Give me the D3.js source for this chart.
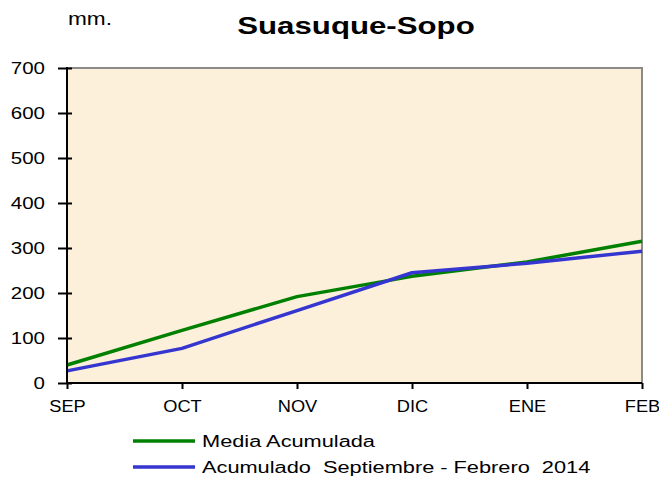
<!DOCTYPE html>
<html>
<head>
  <meta charset="utf-8">
  <title>Suasuque-Sopo</title>
  <script src="https://d3js.org/d3.v7.min.js"></script>
  <style>
    body { margin: 0; background: #fff; }
    text { font-family: Arial, 'Liberation Sans', sans-serif; fill: #000; }
  </style>
</head>
<body>
<div id="chart"></div>
<script>
  // data
  var months = ["SEP", "OCT", "NOV", "DIC", "ENE", "FEB"];
  var media = [40, 117, 192, 237, 269, 315];
  var acumulado = [27, 77, 161, 245, 266, 293];
  var yTicks = [0, 100, 200, 300, 400, 500, 600, 700];
  var seriesNames = ["Media Acumulada", "Acumulado  Septiembre - Febrero  2014"];
  var seriesColors = ["#008000", "#3535cf"];

  var W = 659, H = 477;
  var pLeft = 67, pRight = 642, pTop = 68, pBottom = 383;

  // the original text is drawn a bit wider than plain Arial
  function stretch(sel, f) {
    sel.each(function () {
      var len = this.getComputedTextLength();
      d3.select(this).attr("textLength", len * f).attr("lengthAdjust", "spacingAndGlyphs");
    });
  }

  var svg = d3.select("#chart").append("svg")
    .attr("width", W).attr("height", H);

  var x = d3.scalePoint().domain(months).range([pLeft, pRight]);
  var y = d3.scaleLinear().domain([0, 700]).range([pBottom, pTop]);

  // plot background
  svg.append("rect")
    .attr("x", pLeft).attr("y", pTop)
    .attr("width", pRight - pLeft).attr("height", pBottom - pTop)
    .attr("fill", "#fcf0db");

  // grey frame top/right
  svg.append("path")
    .attr("d", "M" + pLeft + "," + pTop + "H" + pRight + "V" + pBottom)
    .attr("fill", "none").attr("stroke", "#8a8a8a").attr("stroke-width", 2);

  // title + unit
  var title = svg.append("text").attr("x", 356).attr("y", 34)
    .attr("text-anchor", "middle").attr("font-weight", "bold")
    .attr("font-size", 24).text("Suasuque-Sopo");
  stretch(title, 1.3);
  var unit = svg.append("text").attr("x", 68).attr("y", 25)
    .attr("font-size", 18).text("mm.");
  unit.attr("textLength", 44).attr("lengthAdjust", "spacingAndGlyphs");

  // lines
  var line = d3.line().x(function (d, i) { return x(months[i]); }).y(function (d) { return y(d); });
  [media, acumulado].forEach(function (s, k) {
    svg.append("path").datum(s)
      .attr("d", line)
      .attr("fill", "none")
      .attr("stroke", seriesColors[k])
      .attr("stroke-width", 3.5)
      .attr("stroke-linejoin", "round");
  });

  // y axis
  var gy = svg.append("g").attr("transform", "translate(" + pLeft + ",0)")
    .call(d3.axisLeft(y).tickValues(yTicks).tickSize(9).tickPadding(13));
  gy.selectAll(".tick line").attr("x2", -9).attr("x1", 5).attr("stroke-width", 2);
  gy.select(".domain").attr("stroke-width", 2).attr("d", "M0," + (pTop - 1) + "V" + pBottom);
  gy.selectAll("text").attr("font-size", 16).attr("font-family", "Arial, 'Liberation Sans', sans-serif");
  stretch(gy.selectAll("text"), 1.28);

  // x axis
  var gx = svg.append("g").attr("transform", "translate(0," + pBottom + ")")
    .call(d3.axisBottom(x).tickSize(6).tickPadding(12));
  gx.selectAll(".tick line").attr("stroke-width", 2);
  gx.select(".domain").attr("stroke-width", 2).attr("d", "M" + pLeft + ",0H" + pRight);
  gx.selectAll("text").attr("font-size", 16).attr("font-family", "Arial, 'Liberation Sans', sans-serif");
  stretch(gx.selectAll("text"), 1.14);

  // legend
  var lg = svg.append("g");
  seriesNames.forEach(function (n, k) {
    var yy = 441 + k * 26;
    lg.append("line").attr("x1", 133).attr("x2", 195).attr("y1", yy).attr("y2", yy)
      .attr("stroke", seriesColors[k]).attr("stroke-width", 3.5);
    var t = lg.append("text").attr("x", 202).attr("y", yy + 6)
      .attr("font-size", 16).style("white-space", "pre").text(n);
    stretch(t, 1.36);
  });
</script>
</body>
</html>
